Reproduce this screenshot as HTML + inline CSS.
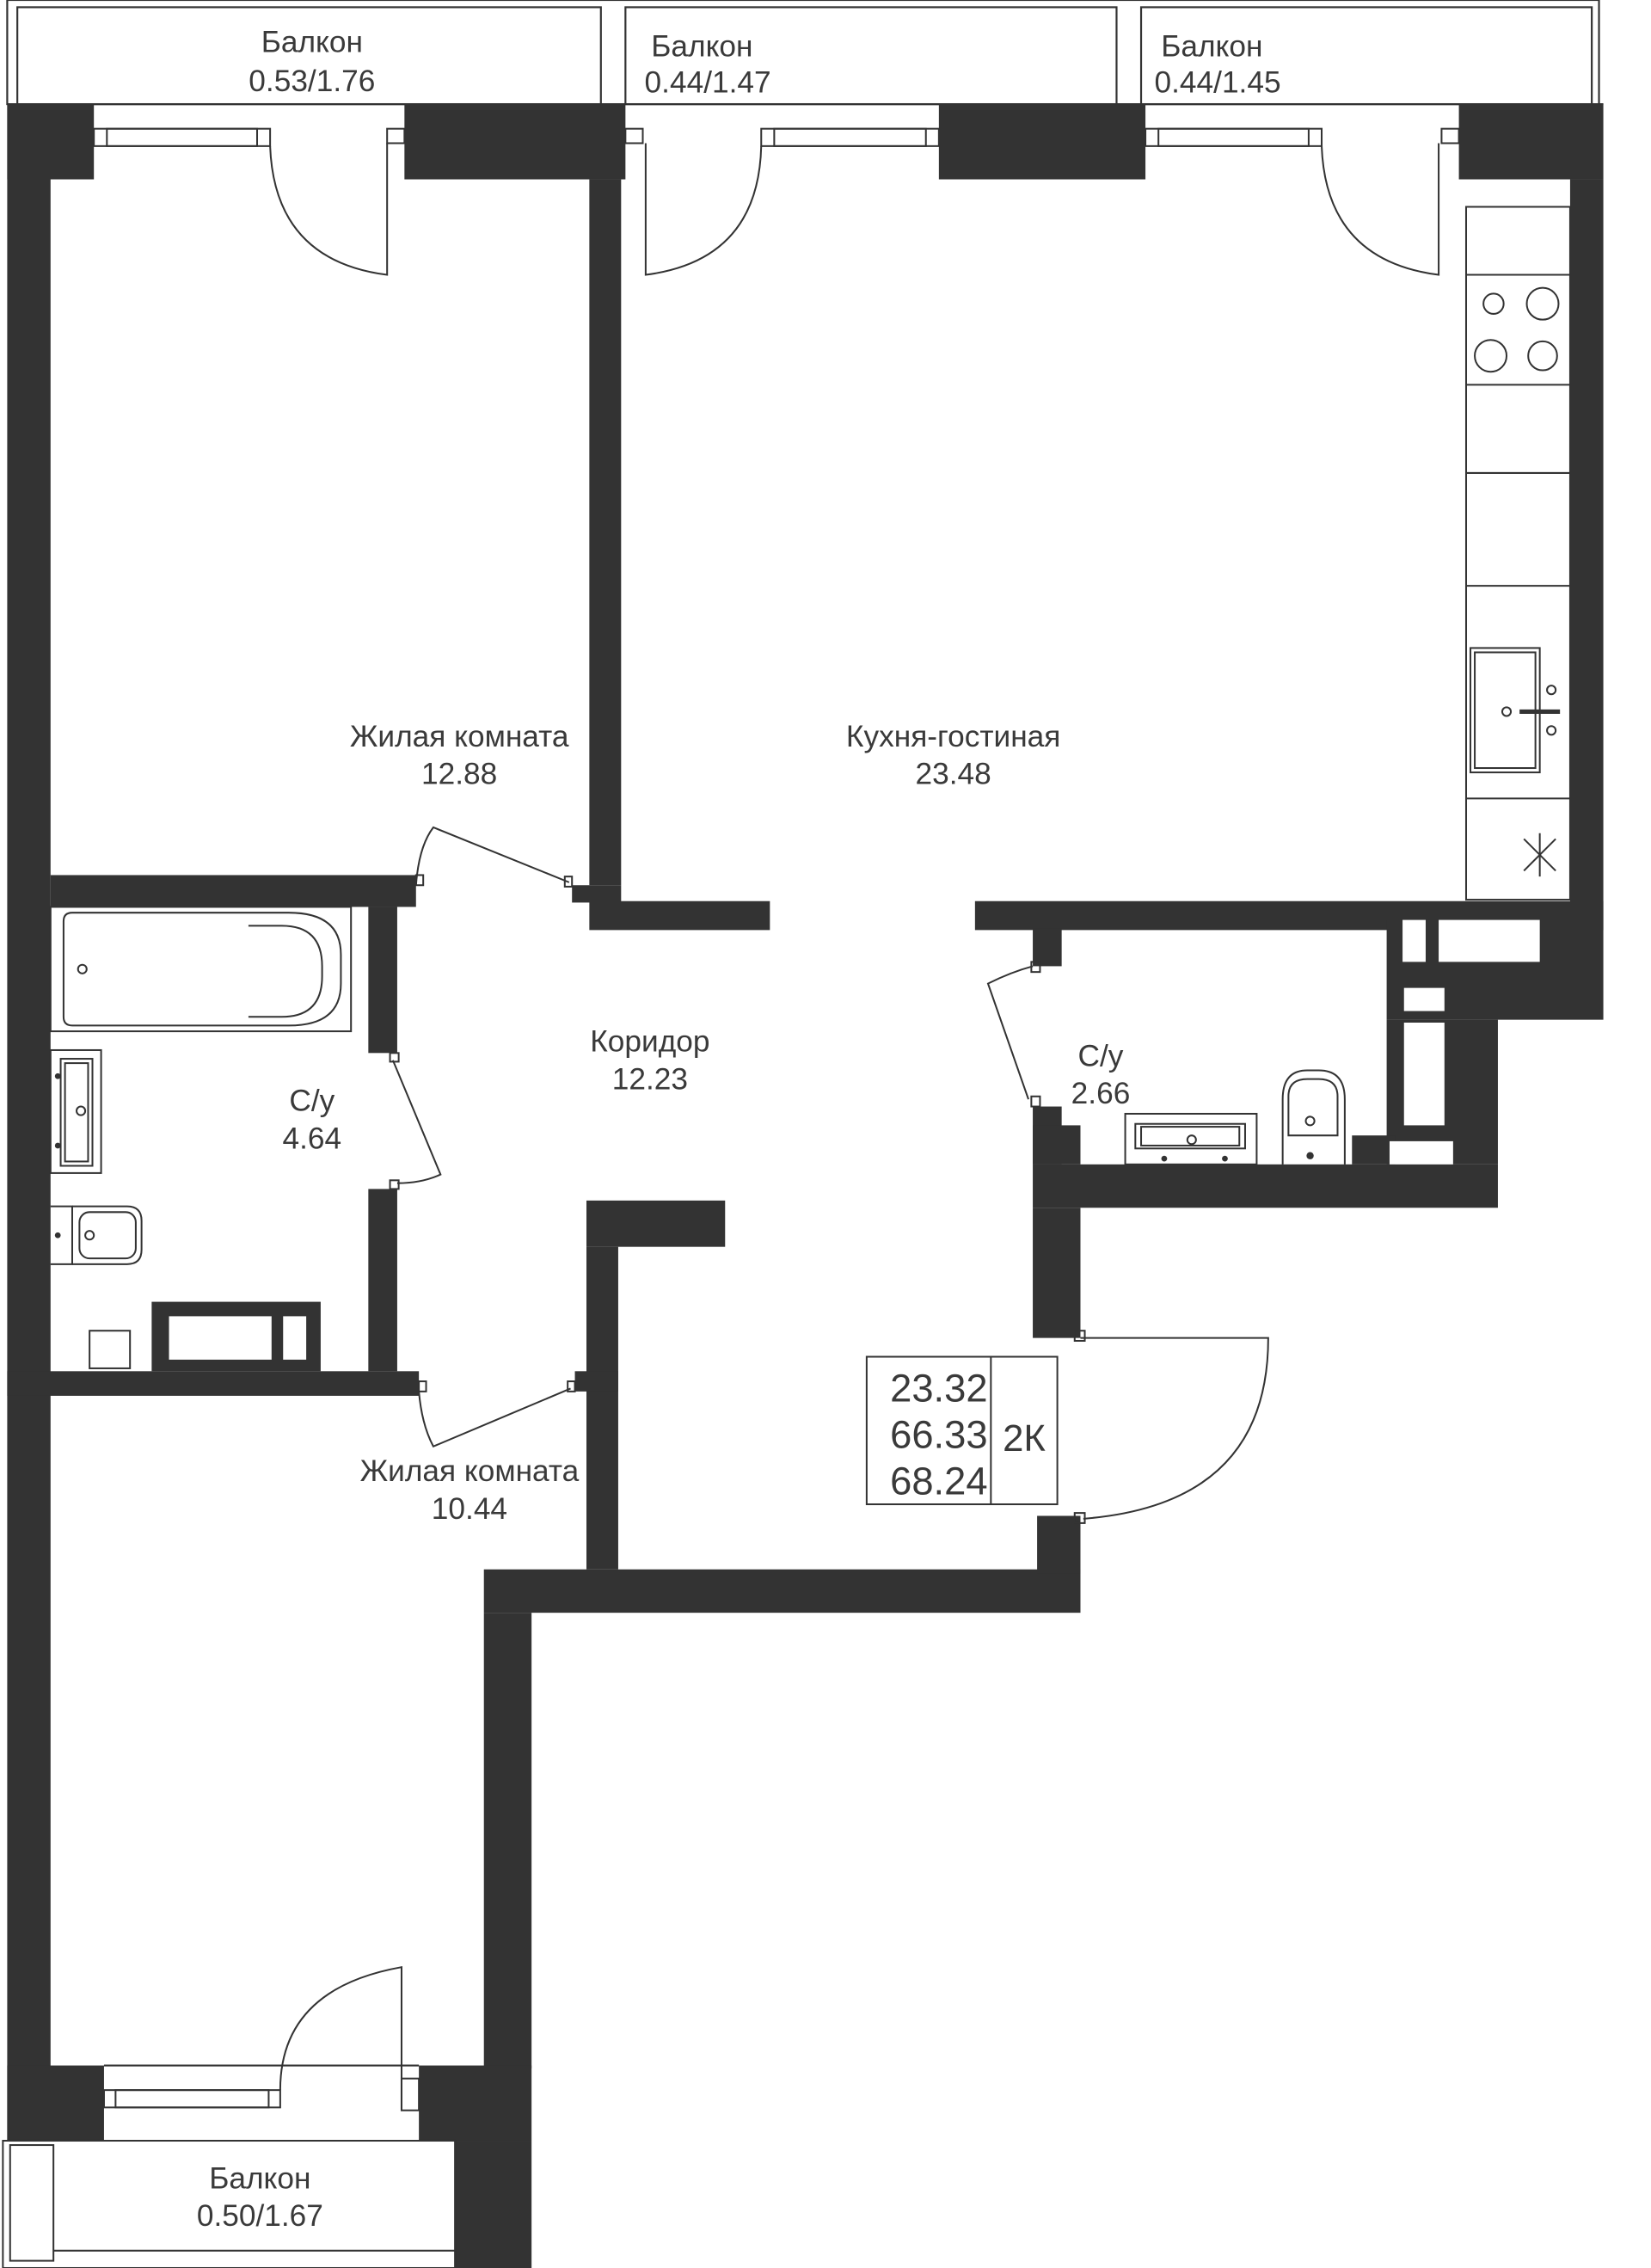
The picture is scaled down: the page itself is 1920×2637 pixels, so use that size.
<!DOCTYPE html>
<html><head><meta charset="utf-8"><style>
html,body{margin:0;padding:0;background:#fff;}
svg{display:block}
text{font-family:"Liberation Sans","DejaVu Sans",sans-serif;fill:#3a3a3a;font-size:21px;text-anchor:middle}
</style></head><body>
<svg width="1920" height="2637" viewBox="0 0 1143 1568" preserveAspectRatio="none" xmlns="http://www.w3.org/2000/svg">
<g fill="none" stroke="#333" stroke-width="1.3">
<rect x="5" y="0" width="1102" height="72"/>
<rect x="12" y="5" width="404" height="67"/>
<rect x="433" y="5" width="340" height="67"/>
<rect x="790" y="5" width="312" height="67"/>
<line x1="5" y1="72" x2="1110" y2="72"/>
</g>
<g fill="#333">
<rect x="5" y="72" width="60" height="52"/>
<rect x="280" y="72" width="153" height="52"/>
<rect x="650" y="72" width="143" height="52"/>
<rect x="1010" y="72" width="100" height="52"/>
<rect x="5" y="72" width="30" height="1408"/>
<rect x="408" y="124" width="22" height="488"/>
<rect x="396" y="612" width="34" height="12"/>
<rect x="1087" y="124" width="23" height="512"/>
<rect x="675" y="623" width="435" height="20"/>
<rect x="408" y="623" width="125" height="20"/>
<rect x="35" y="605" width="253" height="22"/>
<rect x="255" y="627" width="20" height="101"/>
<rect x="255" y="822" width="20" height="126"/>
<rect x="5" y="948" width="285" height="17"/>
<rect x="105" y="900" width="117" height="48"/>
<rect x="406" y="830" width="96" height="32"/>
<rect x="406" y="862" width="22" height="223"/>
<rect x="398" y="948" width="30" height="14"/>
<rect x="335" y="1085" width="413" height="30"/>
<rect x="718" y="1048" width="30" height="40"/>
<rect x="715" y="835" width="33" height="90"/>
<rect x="715" y="642" width="20" height="26"/>
<rect x="715" y="765" width="20" height="40"/>
<rect x="715" y="778" width="33" height="27"/>
<rect x="715" y="805" width="322" height="30"/>
<rect x="960" y="636" width="150" height="69"/>
<rect x="960" y="705" width="77" height="100"/>
<rect x="936" y="785" width="30" height="20"/>
<rect x="335" y="1115" width="33" height="315"/>
<rect x="5" y="1428" width="67" height="52"/>
<rect x="290" y="1428" width="78" height="52"/>
<rect x="315" y="1480" width="53" height="88"/>
</g>
<g fill="#fff">
<rect x="117" y="910" width="71" height="30"/>
<rect x="196" y="910" width="16" height="30"/>
<rect x="971" y="636" width="16" height="29"/>
<rect x="996" y="636" width="70" height="29"/>
<rect x="972" y="683" width="28" height="16"/>
<rect x="972" y="707" width="28" height="71"/>
<rect x="962" y="789" width="44" height="16"/>
</g>
<g fill="none" stroke="#333" stroke-width="1.2">
<rect x="65" y="89" width="122" height="12"/><rect x="74" y="89" width="104" height="12"/>
<rect x="268" y="89" width="12" height="10"/>
<rect x="433" y="89" width="12" height="10"/>
<rect x="527" y="89" width="123" height="12"/><rect x="536" y="89" width="105" height="12"/>
<rect x="793" y="89" width="122" height="12"/><rect x="802" y="89" width="104" height="12"/>
<rect x="998" y="89" width="12" height="10"/>
<path d="M187 101 Q190 180 268 190 L268 99"/>
<path d="M527 101 Q525 180 447 190 L447 99"/>
<path d="M915 101 Q918 180 996 190 L996 99"/>
<rect x="1015" y="143" width="72" height="479"/>
<line x1="1015" y1="190" x2="1087" y2="190"/>
<line x1="1015" y1="266" x2="1087" y2="266"/>
<line x1="1015" y1="327" x2="1087" y2="327"/>
<line x1="1015" y1="405" x2="1087" y2="405"/>
<line x1="1015" y1="552" x2="1087" y2="552"/>
<circle cx="1034" cy="210" r="7"/><circle cx="1068" cy="210" r="11"/>
<circle cx="1032" cy="246" r="11"/><circle cx="1068" cy="246" r="10"/>
<rect x="1018" y="448" width="48" height="86"/><rect x="1021" y="451" width="42" height="80"/>
<circle cx="1043" cy="492" r="3"/><circle cx="1074" cy="477" r="3"/><circle cx="1074" cy="505" r="3"/>
<line x1="1052" y1="492" x2="1080" y2="492" stroke-width="3"/>
<path d="M1066 576 L1066 606 M1055 580 L1077 602 M1077 580 L1055 602"/>
<path d="M288 612 Q290 585 300 572 L394 610"/>
<rect x="288" y="605" width="5" height="7"/><rect x="391" y="606" width="5" height="7"/>
<rect x="35" y="627" width="208" height="86"/>
<path d="M50 631 H200 Q236 631 236 660 V680 Q236 709 200 709 H50 Q44 709 44 703 V637 Q44 631 50 631Z"/>
<path d="M172 640 H195 Q223 640 223 668 V675 Q223 703 195 703 H172"/>
<circle cx="57" cy="670" r="3"/>
<rect x="35" y="726" width="35" height="85"/><rect x="42" y="732" width="22" height="74"/><rect x="45" y="735" width="16" height="68"/>
<circle cx="56" cy="768" r="3"/>
<path d="M35 834 H50 V874 H35"/><path d="M50 834 H88 Q98 834 98 844 V864 Q98 874 88 874 H50"/>
<rect x="55" y="838" width="39" height="32" rx="7"/><circle cx="62" cy="854" r="3"/>
<rect x="62" y="920" width="28" height="26"/>
<path d="M272 733 L305 812 Q292 818 275 818"/>
<rect x="270" y="728" width="6" height="6"/><rect x="270" y="816" width="6" height="6"/>
<path d="M290 962 Q292 985 300 1000 L395 960"/>
<rect x="290" y="955" width="5" height="7"/><rect x="393" y="955" width="5" height="7"/>
<path d="M715 668 Q700 672 684 680 L712 760"/>
<rect x="714" y="665" width="6" height="7"/><rect x="714" y="758" width="6" height="7"/>
<rect x="779" y="770" width="91" height="35"/><rect x="786" y="777" width="76" height="17"/><rect x="790" y="779" width="68" height="13"/>
<circle cx="825" cy="788" r="3"/>
<path d="M888 805 V760 Q888 740 905 740 H913 Q931 740 931 760 V805"/>
<path d="M892 785 V758 Q892 746 905 746 H913 Q926 746 926 758 V785 Z"/>
<circle cx="907" cy="775" r="3"/>
<path d="M748 925 H878 Q878 1040 750 1050"/>
<rect x="744" y="920" width="7" height="7"/><rect x="744" y="1046" width="7" height="7"/>
<rect x="600" y="938" width="132" height="102"/>
<line x1="686" y1="938" x2="686" y2="1040"/>
<rect x="72" y="1445" width="122" height="12"/><rect x="80" y="1445" width="106" height="12"/>
<rect x="278" y="1437" width="12" height="22"/>
<line x1="72" y1="1428" x2="290" y2="1428"/>
<line x1="72" y1="1480" x2="290" y2="1480"/>
<path d="M194 1445 Q194 1375 278 1360 L278 1459"/>
<rect x="2" y="1480" width="313" height="88"/>
<rect x="7" y="1483" width="30" height="80"/>
<line x1="37" y1="1556" x2="315" y2="1556"/>
</g>
<g fill="#333">
<circle cx="40" cy="744" r="2"/><circle cx="40" cy="792" r="2"/><circle cx="40" cy="854" r="2"/>
<circle cx="806" cy="801" r="2"/><circle cx="848" cy="801" r="2"/><circle cx="907" cy="799" r="2.5"/>
</g>
<text x="216" y="36">Балкон</text><text x="216" y="63">0.53/1.76</text>
<text x="486" y="39">Балкон</text><text x="490" y="64">0.44/1.47</text>
<text x="839" y="39">Балкон</text><text x="843" y="64">0.44/1.45</text>
<text x="318" y="516">Жилая комната</text><text x="318" y="542">12.88</text>
<text x="660" y="516">Кухня-гостиная</text><text x="660" y="542">23.48</text>
<text x="450" y="727">Коридор</text><text x="450" y="753">12.23</text>
<text x="216" y="768">С/у</text><text x="216" y="794">4.64</text>
<text x="762" y="737">С/у</text><text x="762" y="763">2.66</text>
<text x="325" y="1024">Жилая комната</text><text x="325" y="1050">10.44</text>
<text x="180" y="1513">Балкон</text><text x="180" y="1539">0.50/1.67</text>
<text x="650" y="969" style="font-size:27px">23.32</text>
<text x="650" y="1001" style="font-size:27px">66.33</text>
<text x="650" y="1033" style="font-size:27px">68.24</text>
<text x="709" y="1003" style="font-size:26px">2К</text>
</svg>
</body></html>
